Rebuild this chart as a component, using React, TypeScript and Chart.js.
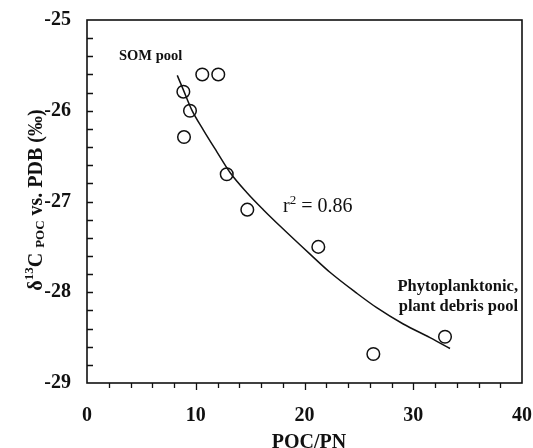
import React, { useEffect, useRef } from 'react';
import { Chart, registerables } from 'chart.js';

Chart.register(...registerables);

// Measured samples
const pocPn = [10.6, 12.07, 8.86, 9.47, 8.92, 12.85, 14.74, 21.27, 26.33, 32.92];
const d13c = [-25.6, -25.6, -25.79, -26.0, -26.29, -26.7, -27.09, -27.5, -28.68, -28.49];

// Fitted curve
const fitX = [8.3, 8.86, 9.63, 10.69, 11.93, 13.15, 14.69, 16.21, 17.75, 20.51, 22.34, 24.8, 26.64, 29.08, 31.54, 33.38];
const fitY = [-25.61, -25.77, -25.99, -26.21, -26.45, -26.68, -26.9, -27.09, -27.27, -27.58, -27.78, -28.01, -28.17, -28.35, -28.5, -28.62];

const xTicks = [0, 10, 20, 30, 40];
const yTicks = [-29, -28, -27, -26, -25];

const SERIF = '"Liberation Serif", "Times New Roman", serif';
const INK = '#111111';

const overlay = {
  id: 'overlay',
  afterDraw(chart: any) {
    const { ctx, chartArea: ca, scales } = chart;
    const xs = scales.x;
    const ys = scales.y;
    ctx.save();
    ctx.strokeStyle = INK;
    ctx.lineWidth = 1.6;
    ctx.strokeRect(ca.left, ca.top, ca.right - ca.left, ca.bottom - ca.top);

    ctx.lineWidth = 1.3;
    ctx.beginPath();
    for (let v = 2; v < 40; v += 2) {
      const p = Math.round(xs.getPixelForValue(v)) + 0.5;
      const len = v % 10 === 0 ? 7 : 5;
      ctx.moveTo(p, ca.bottom);
      ctx.lineTo(p, ca.bottom + len);
    }
    for (let i = 1; i < 20; i++) {
      const v = -29 + i * 0.2;
      const p = Math.round(ys.getPixelForValue(v)) + 0.5;
      ctx.moveTo(ca.left, p);
      ctx.lineTo(ca.left + 6, p);
    }
    ctx.stroke();

    ctx.fillStyle = INK;
    ctx.textBaseline = 'alphabetic';

    // annotations
    ctx.font = `bold 14.5px ${SERIF}`;
    ctx.textAlign = 'left';
    ctx.fillText('SOM pool', 119, 60);

    ctx.font = `20px ${SERIF}`;
    ctx.fillText('r', 283, 212);
    let rx = 283 + ctx.measureText('r').width;
    ctx.font = `13px ${SERIF}`;
    ctx.fillText('2', rx, 204);
    rx += ctx.measureText('2').width;
    ctx.font = `20px ${SERIF}`;
    ctx.fillText(' = 0.86', rx, 212);

    ctx.font = `bold 16.5px ${SERIF}`;
    ctx.textAlign = 'right';
    ctx.fillText('Phytoplanktonic,', 518, 291);
    ctx.fillText('plant debris pool', 518, 311);

    // x title
    ctx.font = `bold 20px ${SERIF}`;
    ctx.textAlign = 'center';
    ctx.fillText('POC/PN', 309, 448);

    // y title
    ctx.save();
    ctx.translate(42, 200);
    ctx.rotate(-Math.PI / 2);
    const big = `bold 20px ${SERIF}`;
    const small = `bold 13px ${SERIF}`;
    const segs = [
      { t: 'δ', f: big, dy: 0 },
      { t: '13', f: small, dy: -9 },
      { t: 'C', f: big, dy: 0 },
      { t: ' ', f: big, dy: 0 },
      { t: 'POC', f: small, dy: 2 },
      { t: ' vs. PDB (‰)', f: big, dy: 0 },
    ];
    let total = 0;
    for (const s of segs) {
      ctx.font = s.f;
      total += ctx.measureText(s.t).width;
    }
    let cx = -total / 2;
    ctx.textAlign = 'left';
    for (const s of segs) {
      ctx.font = s.f;
      ctx.fillText(s.t, cx, s.dy);
      cx += ctx.measureText(s.t).width;
    }
    ctx.restore();

    ctx.restore();
  },
};

export default function App() {
  const ref = useRef<HTMLCanvasElement | null>(null);

  useEffect(() => {
    if (!ref.current) return;
    const chart = new Chart(ref.current, {
      type: 'scatter',
      data: {
        datasets: [
          {
            label: 'fit',
            data: fitX.map((x, i) => ({ x, y: fitY[i] })),
            showLine: true,
            borderColor: INK,
            borderWidth: 1.5,
            pointRadius: 0,
            cubicInterpolationMode: 'monotone',
            fill: false,
          } as any,
          {
            label: 'samples',
            data: pocPn.map((x, i) => ({ x, y: d13c[i] })),
            showLine: false,
            pointRadius: 6.3,
            pointBorderWidth: 1.5,
            borderColor: INK,
            backgroundColor: 'rgba(255,255,255,0)',
          } as any,
        ],
      },
      options: {
        animation: false,
        responsive: false,
        maintainAspectRatio: false,
        layout: { padding: { top: 20, right: 11, left: 0, bottom: 0 } },
        plugins: {
          legend: { display: false },
          tooltip: { enabled: false },
          title: { display: false },
        },
        scales: {
          x: {
            type: 'linear',
            min: 0,
            max: 40,
            afterBuildTicks: (s: any) => {
              s.ticks = xTicks.map((v) => ({ value: v }));
            },
            afterFit: (s: any) => {
              s.height = 65;
              s.paddingLeft = 0;
              s.paddingRight = 0;
            },
            grid: { display: false, drawTicks: false },
            border: { display: false },
            ticks: {
              padding: 21,
              color: INK,
              font: { family: SERIF, size: 20, weight: 'bold' },
              maxRotation: 0,
            },
          },
          y: {
            type: 'linear',
            min: -29,
            max: -25,
            afterBuildTicks: (s: any) => {
              s.ticks = yTicks.map((v) => ({ value: v }));
            },
            afterFit: (s: any) => {
              s.width = 87;
              s.paddingTop = 0;
              s.paddingBottom = 0;
            },
            grid: { display: false, drawTicks: false },
            border: { display: false },
            ticks: {
              padding: 16,
              color: INK,
              font: { family: SERIF, size: 20, weight: 'bold' },
            },
          },
        },
      } as any,
      plugins: [overlay],
    });
    return () => chart.destroy();
  }, []);

  return (
    <div style={{ position: 'fixed', left: 0, top: 0, width: 533, height: 448, background: '#fff' }}>
      <canvas ref={ref} width={533} height={448} style={{ display: 'block', width: 533, height: 448 }} />
    </div>
  );
}
